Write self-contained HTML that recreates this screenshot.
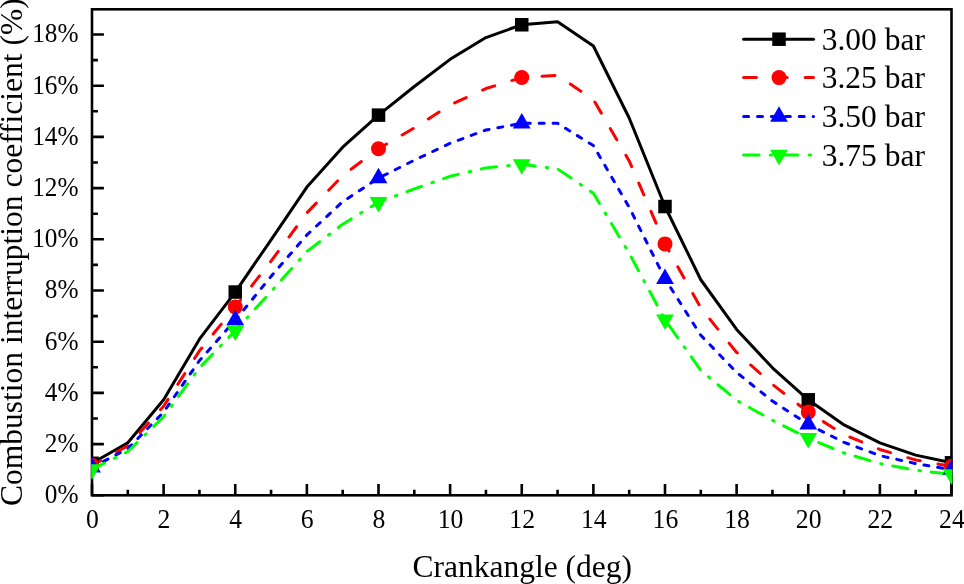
<!DOCTYPE html>
<html><head><meta charset="utf-8"><title>Combustion interruption coefficient</title>
<style>
html,body{margin:0;padding:0;background:#fff;}
body{width:964px;height:584px;overflow:hidden;font-family:"Liberation Serif",serif;}
svg{display:block;}
svg{will-change:transform;}
</style></head>
<body>
<svg width="964" height="584" viewBox="0 0 964 584" font-family="Liberation Serif, serif" fill="#000"><defs><clipPath id="pc"><rect x="91.2" y="9.3" width="861.1" height="486.0"/></clipPath></defs><rect x="92.0" y="9.3" width="859.5" height="486.0" fill="none" stroke="#000" stroke-width="2.6"/><path d="M92.00,495.3V484.1M127.81,495.3V489.7M163.62,495.3V484.1M199.44,495.3V489.7M235.25,495.3V484.1M271.06,495.3V489.7M306.88,495.3V484.1M342.69,495.3V489.7M378.50,495.3V484.1M414.31,495.3V489.7M450.12,495.3V484.1M485.94,495.3V489.7M521.75,495.3V484.1M557.56,495.3V489.7M593.38,495.3V484.1M629.19,495.3V489.7M665.00,495.3V484.1M700.81,495.3V489.7M736.62,495.3V484.1M772.44,495.3V489.7M808.25,495.3V484.1M844.06,495.3V489.7M879.88,495.3V484.1M915.69,495.3V489.7M951.50,495.3V484.1M92.0,495.30H103.9M92.0,469.70H97.9M92.0,444.10H103.9M92.0,418.50H97.9M92.0,392.90H103.9M92.0,367.30H97.9M92.0,341.70H103.9M92.0,316.10H97.9M92.0,290.50H103.9M92.0,264.90H97.9M92.0,239.30H103.9M92.0,213.70H97.9M92.0,188.10H103.9M92.0,162.50H97.9M92.0,136.90H103.9M92.0,111.30H97.9M92.0,85.70H103.9M92.0,60.10H97.9M92.0,34.50H103.9" stroke="#000" stroke-width="2.6" fill="none"/><g clip-path="url(#pc)"><polyline points="92.00,463.30 127.81,442.82 163.62,399.81 199.44,339.14 235.25,292.04 271.06,239.81 306.88,187.08 342.69,147.14 378.50,115.14 414.31,86.47 450.12,59.33 485.94,37.57 521.75,24.77 557.56,21.70 593.38,46.02 629.19,117.96 665.00,206.53 700.81,279.75 736.62,329.41 772.44,367.81 808.25,399.81 844.06,424.90 879.88,442.82 915.69,455.11 951.50,462.79" fill="none" stroke="#000000" stroke-width="3.0" stroke-linejoin="round" stroke-linecap="round"/><polyline points="92.00,465.35 127.81,445.89 163.62,406.21 199.44,350.92 235.25,306.88 271.06,261.06 306.88,212.93 342.69,175.56 378.50,148.68 414.31,127.94 450.12,104.90 485.94,88.52 521.75,77.51 557.56,75.46 593.38,99.52 629.19,160.96 665.00,243.91 700.81,307.91 736.62,352.45 772.44,384.45 808.25,412.10 844.06,434.63 879.88,449.48 915.69,459.97 951.50,466.37" fill="none" stroke="#ff0000" stroke-width="3.0" stroke-linejoin="round" stroke-linecap="round" stroke-dasharray="12.8 17.98" stroke-dashoffset="2.85"/><polyline points="92.00,467.40 127.81,448.71 163.62,412.10 199.44,360.64 235.25,320.20 271.06,276.42 306.88,234.95 342.69,201.67 378.50,178.12 414.31,160.20 450.12,143.30 485.94,129.99 521.75,123.33 557.56,123.33 593.38,145.60 629.19,207.30 665.00,278.72 700.81,335.30 736.62,372.42 772.44,401.09 808.25,424.39 844.06,442.31 879.88,455.62 915.69,463.56 951.50,469.70" fill="none" stroke="#0000ff" stroke-width="3.0" stroke-linejoin="round" stroke-linecap="round" stroke-dasharray="5.0 8.905" stroke-dashoffset="0.91"/><polyline points="92.00,469.44 127.81,451.52 163.62,416.71 199.44,367.81 235.25,330.69 271.06,291.52 306.88,251.59 342.69,224.20 378.50,202.18 414.31,188.87 450.12,176.32 485.94,167.88 521.75,164.29 557.56,168.90 593.38,193.22 629.19,253.38 665.00,319.68 700.81,370.37 736.62,400.32 772.44,420.29 808.25,438.21 844.06,453.06 879.88,463.56 915.69,470.21 951.50,474.31" fill="none" stroke="#00ff00" stroke-width="3.0" stroke-linejoin="round" stroke-linecap="round" stroke-dasharray="15.5 11.1 1.6 10.7" stroke-dashoffset="1.6"/><rect x="85.25" y="456.55" width="13.5" height="13.5" fill="#000000"/><rect x="228.50" y="285.29" width="13.5" height="13.5" fill="#000000"/><rect x="371.75" y="108.39" width="13.5" height="13.5" fill="#000000"/><rect x="515.00" y="18.02" width="13.5" height="13.5" fill="#000000"/><rect x="658.25" y="199.78" width="13.5" height="13.5" fill="#000000"/><rect x="801.50" y="393.06" width="13.5" height="13.5" fill="#000000"/><rect x="944.75" y="456.04" width="13.5" height="13.5" fill="#000000"/><circle cx="92.00" cy="465.35" r="7.5" fill="#ff0000"/><circle cx="235.25" cy="306.88" r="7.5" fill="#ff0000"/><circle cx="378.50" cy="148.68" r="7.5" fill="#ff0000"/><circle cx="521.75" cy="77.51" r="7.5" fill="#ff0000"/><circle cx="665.00" cy="243.91" r="7.5" fill="#ff0000"/><circle cx="808.25" cy="412.10" r="7.5" fill="#ff0000"/><circle cx="951.50" cy="466.37" r="7.5" fill="#ff0000"/><polygon points="92.00,457.06 100.90,472.56 83.10,472.56" fill="#0000ff"/><polygon points="235.25,309.86 244.15,325.36 226.35,325.36" fill="#0000ff"/><polygon points="378.50,167.78 387.40,183.28 369.60,183.28" fill="#0000ff"/><polygon points="521.75,113.00 530.65,128.50 512.85,128.50" fill="#0000ff"/><polygon points="665.00,268.39 673.90,283.89 656.10,283.89" fill="#0000ff"/><polygon points="808.25,414.05 817.15,429.55 799.35,429.55" fill="#0000ff"/><polygon points="951.50,459.37 960.40,474.87 942.60,474.87" fill="#0000ff"/><polygon points="83.10,464.28 100.90,464.28 92.00,479.78" fill="#00ff00"/><polygon points="226.35,325.53 244.15,325.53 235.25,341.03" fill="#00ff00"/><polygon points="369.60,197.01 387.40,197.01 378.50,212.51" fill="#00ff00"/><polygon points="512.85,159.13 530.65,159.13 521.75,174.63" fill="#00ff00"/><polygon points="656.10,314.52 673.90,314.52 665.00,330.02" fill="#00ff00"/><polygon points="799.35,433.05 817.15,433.05 808.25,448.55" fill="#00ff00"/><polygon points="942.60,469.14 960.40,469.14 951.50,484.64" fill="#00ff00"/></g><g font-size="26.5"><text transform="translate(92.40,528.4) scale(0.97,1)" text-anchor="middle">0</text><text transform="translate(164.03,528.4) scale(0.97,1)" text-anchor="middle">2</text><text transform="translate(235.65,528.4) scale(0.97,1)" text-anchor="middle">4</text><text transform="translate(307.27,528.4) scale(0.97,1)" text-anchor="middle">6</text><text transform="translate(378.90,528.4) scale(0.97,1)" text-anchor="middle">8</text><text transform="translate(450.52,528.4) scale(0.97,1)" text-anchor="middle">10</text><text transform="translate(522.15,528.4) scale(0.97,1)" text-anchor="middle">12</text><text transform="translate(593.77,528.4) scale(0.97,1)" text-anchor="middle">14</text><text transform="translate(665.40,528.4) scale(0.97,1)" text-anchor="middle">16</text><text transform="translate(737.02,528.4) scale(0.97,1)" text-anchor="middle">18</text><text transform="translate(808.65,528.4) scale(0.97,1)" text-anchor="middle">20</text><text transform="translate(880.27,528.4) scale(0.97,1)" text-anchor="middle">22</text><text transform="translate(951.90,528.4) scale(0.97,1)" text-anchor="middle">24</text><text transform="translate(78.6,503.20) scale(0.955,1)" text-anchor="end">0%</text><text transform="translate(78.6,452.00) scale(0.955,1)" text-anchor="end">2%</text><text transform="translate(78.6,400.80) scale(0.955,1)" text-anchor="end">4%</text><text transform="translate(78.6,349.60) scale(0.955,1)" text-anchor="end">6%</text><text transform="translate(78.6,298.40) scale(0.955,1)" text-anchor="end">8%</text><text transform="translate(78.6,247.20) scale(0.955,1)" text-anchor="end">10%</text><text transform="translate(78.6,196.00) scale(0.955,1)" text-anchor="end">12%</text><text transform="translate(78.6,144.80) scale(0.955,1)" text-anchor="end">14%</text><text transform="translate(78.6,93.60) scale(0.955,1)" text-anchor="end">16%</text><text transform="translate(78.6,42.40) scale(0.955,1)" text-anchor="end">18%</text></g><text x="522.3" y="577.3" font-size="31.5" text-anchor="middle">Crankangle (deg)</text><text transform="translate(22.3,506.0) rotate(-90)" font-size="31.5">Combustion interruption coefficient (%)</text><line x1="743.6" y1="39.2" x2="813.5" y2="39.2" stroke="#000000" stroke-width="3.0" stroke-linecap="round"/><rect x="772.25" y="32.45" width="13.5" height="13.5" fill="#000000"/><text transform="translate(821.7,49.80) scale(0.985,1)" font-size="32">3.00 bar</text><line x1="743.6" y1="77.6" x2="813.5" y2="77.6" stroke="#ff0000" stroke-width="3.0" stroke-linecap="round" stroke-dasharray="12.8 17.98"/><circle cx="779.00" cy="77.60" r="7.5" fill="#ff0000"/><text transform="translate(821.7,88.20) scale(0.985,1)" font-size="32">3.25 bar</text><line x1="743.6" y1="116.5" x2="813.5" y2="116.5" stroke="#0000ff" stroke-width="3.0" stroke-linecap="round" stroke-dasharray="5.0 8.905"/><polygon points="779.00,106.17 787.90,121.67 770.10,121.67" fill="#0000ff"/><text transform="translate(821.7,127.10) scale(0.985,1)" font-size="32">3.50 bar</text><line x1="743.6" y1="154.9" x2="813.5" y2="154.9" stroke="#00ff00" stroke-width="3.0" stroke-linecap="round" stroke-dasharray="15.5 11.1 1.6 10.7"/><polygon points="770.10,149.73 787.90,149.73 779.00,165.23" fill="#00ff00"/><text transform="translate(821.7,165.50) scale(0.985,1)" font-size="32">3.75 bar</text></svg>
</body></html>
